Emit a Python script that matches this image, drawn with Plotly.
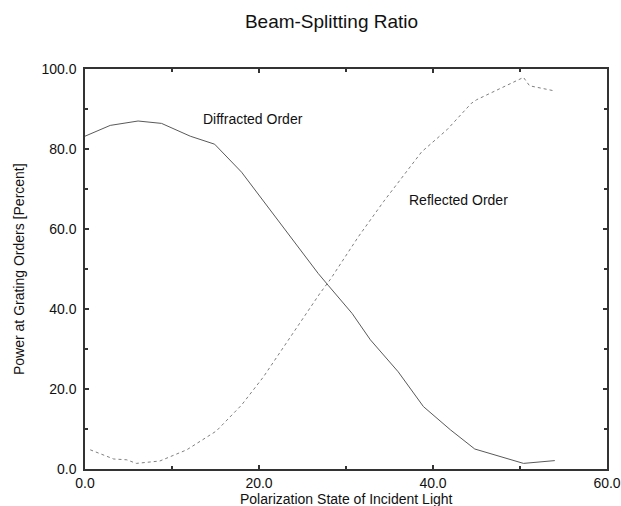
import plotly.graph_objects as go

diff_x = [0.0, 2.9, 6.1, 8.8, 12.1, 14.9, 18.0, 26.8, 28.0, 30.7, 32.8, 36.0, 38.9, 42.0, 44.8, 50.4, 54.0]
diff_y = [83.2, 85.9, 87.0, 86.4, 83.2, 81.2, 74.2, 48.9, 45.8, 38.9, 32.3, 24.3, 15.6, 9.8, 5.0, 1.4, 2.1]

refl_x = [0.6, 3.3, 4.8, 5.9, 8.6, 11.7, 15.1, 16.9, 18.0, 20.5, 23.9, 27.0, 28.2, 31.4, 34.3, 38.7, 41.6, 44.4, 45.0, 50.4, 51.1, 53.8]
refl_y = [4.8, 2.5, 2.3, 1.4, 2.0, 4.8, 9.5, 13.5, 16.0, 23.0, 33.9, 43.9, 47.4, 58.0, 66.8, 79.3, 84.8, 91.4, 92.3, 97.9, 95.8, 94.6]

x_ticks = [0, 20, 40, 60]
x_tick_labels = ["0.0", "20.0", "40.0", "60.0"]
x_minor = [10, 30, 50]
y_ticks = [0, 20, 40, 60, 80, 100]
y_tick_labels = ["0.0", "20.0", "40.0", "60.0", "80.0", "100.0"]
y_minor = [10, 30, 50, 70, 90]

font = "Liberation Sans, Arial, Helvetica, sans-serif"
txt = dict(size=14, color="#111111", family=font)

fig = go.Figure()
fig.add_trace(go.Scatter(x=diff_x, y=diff_y, mode="lines",
                         line=dict(color="#595959", width=1), showlegend=False))
fig.add_trace(go.Scatter(x=refl_x, y=refl_y, mode="lines",
                         line=dict(color="#7f7f7f", width=1, dash="dot"), showlegend=False))

fig.add_annotation(x=19.3, y=87.5, text="Diffracted Order", showarrow=False, font=txt)
fig.add_annotation(x=42.9, y=67.2, text="Reflected Order", showarrow=False, font=txt)

# axis titles
fig.add_annotation(x=0.5, y=0, xref="paper", yref="paper", xanchor="center", yanchor="middle",
                   yshift=-30, text="Polarization State of Incident Light", showarrow=False, font=txt)
fig.add_annotation(x=0, y=0.5, xref="paper", yref="paper", xanchor="center", yanchor="middle",
                   xshift=-66, textangle=-90, text="Power at Grating Orders [Percent]",
                   showarrow=False, font=txt)

axis_common = dict(showgrid=False, zeroline=False, showline=True, linecolor="#333333",
                   linewidth=1.5, mirror="ticks", ticks="inside", ticklen=4,
                   tickcolor="#333333", tickwidth=1.5, automargin=False, tickfont=txt,
                   ticklabeloverflow="allow")

fig.update_xaxes(range=[0, 60], tickvals=x_ticks, ticktext=x_tick_labels, ticklabelstandoff=0,
                 minor=dict(tickvals=x_minor, ticks="inside", ticklen=3, tickcolor="#333333"),
                 **axis_common)
fig.update_yaxes(range=[0, 100], tickvals=y_ticks, ticktext=y_tick_labels, ticklabelstandoff=4,
                 minor=dict(tickvals=y_minor, ticks="inside", ticklen=3, tickcolor="#333333"),
                 **axis_common)

fig.update_layout(
    width=621, height=506,
    margin=dict(l=85, r=14, t=69, b=37),
    paper_bgcolor="white", plot_bgcolor="white",
    title=dict(text="Beam-Splitting Ratio", x=331.5 / 621, xanchor="center",
               y=1 - 21 / 506, yanchor="middle",
               font=dict(size=19, color="#111111", family=font)),
)

fig.write_html("out.html", config={"displayModeBar": False},
               post_script="document.body.style.margin='0';document.body.style.overflow='hidden';")
